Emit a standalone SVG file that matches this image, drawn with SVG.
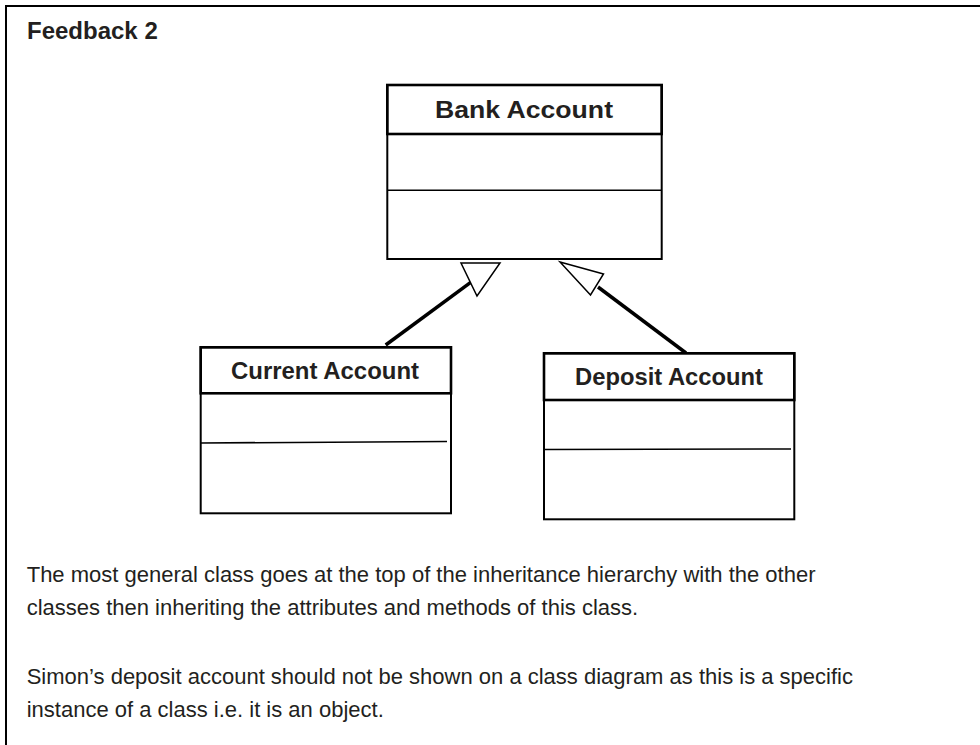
<svg xmlns="http://www.w3.org/2000/svg" width="980" height="745" viewBox="0 0 980 745">
<style>
  .frame { stroke: #000; stroke-width: 2; fill: none; }
  .box { fill: #fff; stroke: #000; stroke-width: 2; }
  .hdr { fill: none; stroke: #000; stroke-width: 2.6; }
  .sep { stroke: #000; stroke-width: 1.6; fill: none; }
  .title { font-family: "Liberation Sans", Arial, sans-serif; font-weight: bold; fill: #231f20; }
  .body { font-family: "Liberation Sans", Arial, sans-serif; font-size: 22px; fill: #231f20; }
  .link { stroke: #000; stroke-width: 3.5; fill: none; }
  .head { fill: #fff; stroke: #000; stroke-width: 1.5; stroke-linejoin: miter; }
</style>
<rect width="980" height="745" fill="#fff"/>
<line class="frame" x1="6" y1="6" x2="980" y2="6"/>
<line class="frame" x1="6" y1="5" x2="6" y2="745"/>
<text class="title" x="27" y="39" font-size="24">Feedback 2</text>

<g id="connectors">
  <line class="link" x1="385.7" y1="345" x2="471.7" y2="281.7"/>
  <polygon class="head" points="461,263 500,263 477,296"/>
  <line class="link" x1="686" y1="353" x2="598" y2="287"/>
  <polygon class="head" points="560,262 603.5,274 590.5,295"/>
</g>

<g id="bank-account">
  <rect class="box" x="387.3" y="85" width="274.4" height="174"/>
  <rect class="hdr" x="387.3" y="85" width="274.4" height="49"/>
  <line class="sep" x1="387.3" y1="190.3" x2="661.7" y2="190.3"/>
  <text class="title" x="524" y="118.3" font-size="24" text-anchor="middle" textLength="178" lengthAdjust="spacingAndGlyphs">Bank Account</text>
</g>

<g id="current-account">
  <rect class="box" x="200.7" y="347.3" width="250.3" height="166"/>
  <rect class="hdr" x="200.7" y="347.3" width="250.3" height="46"/>
  <line class="sep" x1="200.7" y1="443" x2="447" y2="441.5"/>
  <text class="title" x="325" y="379" font-size="23" text-anchor="middle" textLength="188" lengthAdjust="spacingAndGlyphs">Current Account</text>
</g>

<g id="deposit-account">
  <rect class="box" x="544" y="353.3" width="250.3" height="166"/>
  <rect class="hdr" x="544" y="353.3" width="250.3" height="46.7"/>
  <line class="sep" x1="544" y1="449.5" x2="791" y2="449"/>
  <text class="title" x="669" y="385" font-size="23" text-anchor="middle" textLength="188" lengthAdjust="spacingAndGlyphs">Deposit Account</text>
</g>

<text class="body" x="26.7" y="582">The most general class goes at the top of the inheritance hierarchy with the other</text>
<text class="body" x="26.7" y="615">classes then inheriting the attributes and methods of this class.</text>
<text class="body" x="26.7" y="684">Simon’s deposit account should not be shown on a class diagram as this is a specific</text>
<text class="body" x="26.7" y="717">instance of a class i.e. it is an object.</text>
</svg>
